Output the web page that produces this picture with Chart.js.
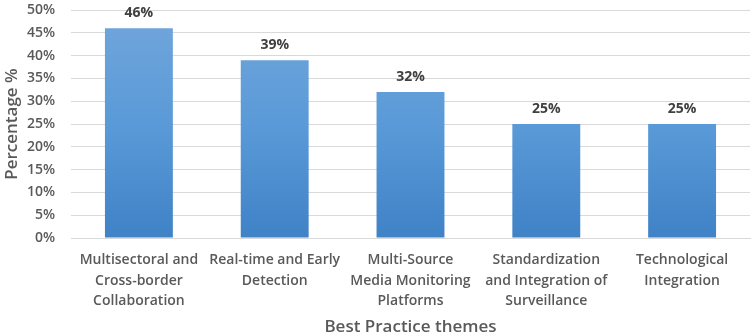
<!DOCTYPE html>
<html>
<head>
<meta charset="utf-8">
<script src="https://cdn.jsdelivr.net/npm/chart.js@4"></script>
<style>
  html, body { margin: 0; padding: 0; background: #fff; }
  #wrap { width: 753px; height: 336px; }
</style>
</head>
<body>
<div id="wrap"><canvas id="chart"></canvas></div>
<script>
const categorias = [
  ["Multisectoral and", "Cross-border", "Collaboration"],
  ["Real-time and Early", "Detection"],
  ["Multi-Source", "Media Monitoring", "Platforms"],
  ["Standardization", "and Integration of", "Surveillance"],
  ["Technological", "Integration"],
];
const porcentajes = [46, 39, 32, 25, 25];
const ticksY = [0, 5, 10, 15, 20, 25, 30, 35, 40, 45, 50];

// etiquetas encima de cada barra
const etiquetas = {
  id: "etiquetas",
  afterDatasetsDraw(chart) {
    const ctx = chart.ctx;
    const meta = chart.getDatasetMeta(0);
    ctx.save();
    ctx.font = "bold 14px 'Open Sans', sans-serif";
    ctx.fillStyle = "#404040";
    ctx.textAlign = "center";
    ctx.textBaseline = "alphabetic";
    meta.data.forEach((bar, i) => {
      ctx.fillText(porcentajes[i] + "%", bar.x, bar.y - 11);
    });
    ctx.restore();
  },
};

const ctx = document.getElementById("chart").getContext("2d");
new Chart(ctx, {
  type: "bar",
  data: {
    labels: categorias,
    datasets: [
      {
        data: porcentajes,
        backgroundColor: (c) => {
          const area = c.chart.chartArea;
          if (!area) return "#5b9bd5";
          const g = c.chart.ctx.createLinearGradient(0, area.top, 0, area.bottom);
          g.addColorStop(0, "#72a6db");
          g.addColorStop(0.5, "#5a9ad8");
          g.addColorStop(1, "#3f82c6");
          return g;
        },
        barPercentage: 0.5,
        categoryPercentage: 1,
      },
    ],
  },
  options: {
    responsive: true,
    maintainAspectRatio: false,
    animation: false,
    layout: { padding: { top: 2, right: 3, left: 4, bottom: 0 } },
    plugins: {
      legend: { display: false },
      tooltip: { enabled: false },
    },
    scales: {
      x: {
        grid: { display: false, drawTicks: false },
        border: { color: "#d9d9d9" },
        afterFit: (axis) => {
          axis.paddingLeft = 0;
          axis.paddingRight = 0;
        },
        ticks: {
          color: "#595959",
          font: { family: "'Open Sans', sans-serif", size: 14, weight: "600", lineHeight: 1.45 },
          padding: 12,
          maxRotation: 0,
          autoSkip: false,
        },
        title: {
          display: true,
          text: "Best Practice themes",
          color: "#595959",
          font: { family: "'Open Sans', sans-serif", size: 17, weight: "600", lineHeight: 1 },
          padding: { top: -4, bottom: 0 },
        },
      },
      y: {
        min: 0,
        max: 50,
        afterBuildTicks: (axis) => {
          axis.ticks = ticksY.map((v) => ({ value: v }));
        },
        afterFit: (axis) => {
          axis.paddingTop = 10;
          axis.paddingBottom = 8;
          axis.width = 67;
        },
        grid: { color: "#d9d9d9", drawTicks: false },
        border: { display: false },
        ticks: {
          color: "#595959",
          font: { family: "'Open Sans', sans-serif", size: 14, weight: "600" },
          padding: 16,
          callback: (v) => v + "%",
        },
        title: {
          display: true,
          text: "Percentage %",
          color: "#595959",
          font: { family: "'Open Sans', sans-serif", size: 17, weight: "600", lineHeight: 1 },
          padding: { top: 0, bottom: 0 },
        },
      },
    },
  },
  plugins: [etiquetas],
});
</script>
</body>
</html>
